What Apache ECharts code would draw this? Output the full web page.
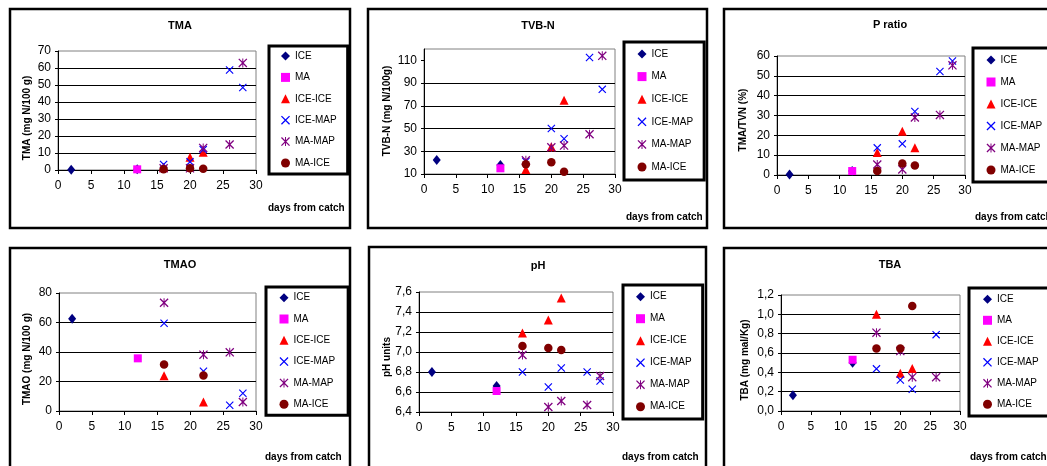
<!DOCTYPE html>
<html><head><meta charset="utf-8">
<script src="https://cdn.jsdelivr.net/npm/echarts@6/dist/echarts.min.js"></script>
<style>html,body{margin:0;padding:0;background:#fff}#c{width:1047px;height:466px}</style>
</head><body><div id="c"></div>
<script>
// ---------------- DATA ----------------
const days = [2, 12, 16, 20, 22, 26, 28];
const seriesNames = ['ICE', 'MA', 'ICE-ICE', 'ICE-MAP', 'MA-MAP', 'MA-ICE'];
const xTicks = [0, 5, 10, 15, 20, 25, 30];

// values aligned with `days` (null = not measured / not shown)
const tmaValues = {
  'ICE':     [0.2, 0.4, null, null, null, null, null],
  'MA':      [null, 0.4, null, null, null, null, null],
  'ICE-ICE': [null, null, 1.5, 7.5, 10.5, null, null],
  'ICE-MAP': [null, null, 3.3, 4.8, 12, 58.8, 48.5],
  'MA-MAP':  [null, null, 1, 1, 13, 15, 63],
  'MA-ICE':  [null, null, 0.4, 1.1, 0.7, null, null]
};
const tvbnValues = {
  'ICE':     [22.3, 18, null, null, null, null, null],
  'MA':      [null, 15, null, null, null, null, null],
  'ICE-ICE': [null, null, 14, 34, 75, null, null],
  'ICE-MAP': [null, null, 21, 50, 41, 112.5, 84.5],
  'MA-MAP':  [null, null, 22, 33.5, 35, 45, 114],
  'MA-ICE':  [null, null, 18.5, 20.3, 12, null, null]
};
const pratioValues = {
  'ICE':     [0.3, 2, null, null, null, null, null],
  'MA':      [null, 2, null, null, null, null, null],
  'ICE-ICE': [null, null, 11.3, 22, 13.8, null, null],
  'ICE-MAP': [null, null, 13.7, 15.7, 32, 52.2, 57.5],
  'MA-MAP':  [null, null, 5.3, 2.8, 29, 30.3, 55.3],
  'MA-ICE':  [null, null, 2, 5.8, 4.8, null, null]
};
const tmaoValues = {
  'ICE':     [62.5, null, null, null, null, null, null],
  'MA':      [null, 35.7, null, null, null, null, null],
  'ICE-ICE': [null, null, 23.9, null, 6.1, null, null],
  'ICE-MAP': [null, null, 59.5, null, 27, 3.9, 12],
  'MA-MAP':  [null, null, 73.4, null, 38.2, 39.8, 6.1],
  'MA-ICE':  [null, null, 31.6, null, 24, null, null]
};
const phValues = {
  'ICE':     [6.8, 6.66, null, null, null, null, null],
  'MA':      [null, 6.61, null, null, null, null, null],
  'ICE-ICE': [null, null, 7.19, 7.32, 7.54, null, null],
  'ICE-MAP': [null, null, 6.8, 6.65, 6.84, 6.8, 6.71],
  'MA-MAP':  [null, null, 6.97, 6.45, 6.51, 6.47, 6.76],
  'MA-ICE':  [null, null, 7.06, 7.04, 7.02, null, null]
};
const tbaValues = {
  'ICE':     [0.163, 0.5, null, null, null, null, null],
  'MA':      [null, 0.53, null, null, null, null, null],
  'ICE-ICE': [null, null, 1.0, 0.39, 0.44, null, null],
  'ICE-MAP': [null, null, 0.436, 0.32, 0.225, 0.79, null],
  'MA-MAP':  [null, null, 0.81, 0.62, 0.35, 0.35, null],
  'MA-ICE':  [null, null, 0.647, 0.647, 1.086, null, null]
};

const tmaTicks = [0, 10, 20, 30, 40, 50, 60, 70];
const tvbnTicks = [10, 30, 50, 70, 90, 110];
const pratioTicks = [0, 10, 20, 30, 40, 50, 60];
const tmaoTicks = [0, 20, 40, 60, 80];
const phTicks = [6.4, 6.6, 6.8, 7.0, 7.2, 7.4, 7.6];
const tbaTicks = [0, 0.2, 0.4, 0.6, 0.8, 1.0, 1.2];

// ---------------- STYLE / LAYOUT ----------------
const FONT = 'Liberation Sans';
const X_PATH = 'path://M0,1 L1,0 L10,9 L9,10 Z M9,0 L10,1 L1,10 L0,9 Z';
const STAR_PATH = 'path://M0,1 L1,0 L10,9 L9,10 Z M9,0 L10,1 L1,10 L0,9 Z M4.45,0 L5.55,0 L5.55,10 L4.45,10 Z';
const seriesStyle = {
  'ICE':     {symbol: 'diamond', size: [8, 10], color: '#000080'},
  'MA':      {symbol: 'rect', size: 8, color: '#FF00FF'},
  'ICE-ICE': {symbol: 'triangle', size: [9, 9], color: '#FF0000'},
  'ICE-MAP': {symbol: X_PATH, size: 8, color: '#0000FF'},
  'MA-MAP':  {symbol: STAR_PATH, size: 9, color: '#800080'},
  'MA-ICE':  {symbol: 'circle', size: 8.5, color: '#800000'}
};

const panels = [
  {title: 'TMA', yName: 'TMA (mg N/100 g)', values: tmaValues, ticks: tmaTicks, dec: 0,
   box: [10, 9, 340, 219], grid: [58, 51, 198, 119], titleXY: [180, 20], yNameXY: [27, 118],
   legend: {left: 269, top: 46, padding: [4, 11, 5, 12], gap: 9.4}, daysXY: [268, 208]},
  {title: 'TVB-N', yName: 'TVB-N (mg N/100g)', values: tvbnValues, ticks: tvbnTicks, dec: 0, yMax: 120,
   box: [368, 9, 339, 219], grid: [424, 49, 191, 125], titleXY: [538, 20], yNameXY: [387, 111],
   legend: {left: 624, top: 42, padding: [6, 11, 7, 13.5], gap: 10.6}, daysXY: [626, 217]},
  {title: 'P ratio', yName: 'TMA/TVN (%)', values: pratioValues, ticks: pratioTicks, dec: 0,
   box: [724, 9, 340, 219], grid: [777, 56, 188, 119], titleXY: [890, 19], yNameXY: [743, 120],
   legend: {left: 973, top: 48, padding: [6, 11, 6, 13.5], gap: 10}, daysXY: [975, 217]},
  {title: 'TMAO', yName: 'TMAO (mg N/100 g)', values: tmaoValues, ticks: tmaoTicks, dec: 0,
   box: [10, 248, 340, 230], grid: [59, 293, 197, 118], titleXY: [180, 259], yNameXY: [27, 359],
   legend: {left: 266, top: 287, padding: [4.7, 13, 5, 13.5], gap: 9.3}, daysXY: [265, 457]},
  {title: 'pH', yName: 'pH units', values: phValues, ticks: phTicks, dec: 1,
   box: [369, 247, 337, 230], grid: [419, 292, 194, 120], titleXY: [538, 260], yNameXY: [387, 357],
   legend: {left: 623, top: 285, padding: [5.7, 11, 6.3, 13], gap: 10}, daysXY: [622, 457]},
  {title: 'TBA', yName: 'TBA (mg mal/Kg)', values: tbaValues, ticks: tbaTicks, dec: 1,
   box: [724, 248, 340, 230], grid: [781, 295, 179, 116], titleXY: [890, 259], yNameXY: [745, 360],
   legend: {left: 969, top: 288, padding: [5.3, 11, 5.7, 14], gap: 9}, daysXY: [970, 457]}
];

// ---------------- BUILD OPTION ----------------
const fmt = (dec) => (v) => dec ? Number(v).toFixed(dec).replace('.', ',') : String(v);

const option = {
  animation: false,
  backgroundColor: '#fff',
  textStyle: {fontFamily: FONT},
  title: [], grid: [], xAxis: [], yAxis: [], legend: [], series: [], graphic: []
};

panels.forEach((p, i) => {
  option.title.push({
    text: p.title, left: p.titleXY[0], top: p.titleXY[1], textAlign: 'center', padding: 0,
    textStyle: {fontFamily: FONT, fontSize: 11, fontWeight: 'bold', color: '#000'}
  });
  option.grid.push({
    left: p.grid[0], top: p.grid[1], width: p.grid[2], height: p.grid[3],
    show: true, borderColor: '#808080', borderWidth: 1, backgroundColor: '#fff'
  });
  option.xAxis.push({
    type: 'value', gridIndex: i, min: 0, max: 30,
    axisLine: {show: true, onZero: false, lineStyle: {color: '#000', width: 1}},
    axisTick: {show: true, length: 4, customValues: xTicks, lineStyle: {color: '#000'}},
    axisLabel: {customValues: xTicks, fontFamily: FONT, fontSize: 12, color: '#000', margin: 10},
    splitLine: {show: false}
  });
  const yMin = p.ticks[0];
  const yMax = p.yMax !== undefined ? p.yMax : p.ticks[p.ticks.length - 1];
  option.yAxis.push({
    type: 'value', gridIndex: i, min: yMin, max: yMax,
    axisLine: {show: true, onZero: false, lineStyle: {color: '#000', width: 1}},
    axisTick: {show: true, length: 3, customValues: p.ticks, lineStyle: {color: '#000'}},
    axisLabel: {customValues: p.ticks, formatter: fmt(p.dec), fontFamily: FONT, fontSize: 12, color: '#000', margin: 7},
    splitLine: {show: true, showMinLine: false, showMaxLine: false, lineStyle: {color: '#000', width: 1}}
  });
  option.legend.push({
    orient: 'vertical', left: p.legend.left, top: p.legend.top,
    padding: p.legend.padding, itemGap: p.legend.gap,
    itemWidth: 9, itemHeight: 9,
    borderColor: '#000', borderWidth: 3, backgroundColor: '#fff',
    selectedMode: false,
    textStyle: {fontFamily: FONT, fontSize: 10, color: '#000', lineHeight: 12},
    data: seriesNames
  });
  seriesNames.forEach((name) => {
    const st = seriesStyle[name];
    const data = days.map((d, k) => [d, p.values[name][k]]).filter((pt) => pt[1] !== null);
    option.series.push({
      type: 'scatter', name: name, xAxisIndex: i, yAxisIndex: i,
      symbol: st.symbol, symbolSize: st.size,
      itemStyle: {color: st.color, opacity: 1},
      emphasis: {disabled: true},
      data: data
    });
  });
  option.graphic.push({
    type: 'rect', z: 0, silent: true,
    shape: {x: p.box[0], y: p.box[1], width: p.box[2], height: p.box[3]},
    style: {fill: 'none', stroke: '#000', lineWidth: 2.5}
  });
  option.graphic.push({
    type: 'text', silent: true, x: p.yNameXY[0], y: p.yNameXY[1], rotation: Math.PI / 2,
    style: {text: p.yName, fill: '#000', font: 'bold 10px "' + FONT + '"', align: 'center', verticalAlign: 'middle'}
  });
  option.graphic.push({
    type: 'text', silent: true, x: p.daysXY[0], y: p.daysXY[1],
    style: {text: 'days from catch', fill: '#000', font: 'bold 10px "' + FONT + '"', align: 'left', verticalAlign: 'middle'}
  });
});

const chart = echarts.init(document.getElementById('c'), null, {renderer: 'canvas'});
chart.setOption(option);
</script>
</body></html>
